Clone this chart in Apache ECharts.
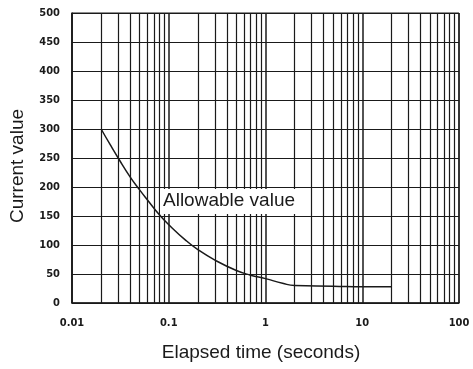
<!DOCTYPE html>
<html><head><meta charset="utf-8">
<script src="https://cdn.jsdelivr.net/npm/echarts@6/dist/echarts.min.js"></script>
<style>html,body{margin:0;padding:0;background:#fff}#c{width:473px;height:369px}</style>
</head><body><div id="c"></div>
<script>
var timeValues = [0.02, 0.025, 0.03, 0.04, 0.05, 0.06, 0.08, 0.1, 0.15, 0.2, 0.3, 0.5, 0.7, 1, 1.5, 2, 5, 10, 20];
var currentValues = [300, 272, 250, 217, 195, 178, 152, 135, 108, 92, 74, 56, 48, 42, 34, 30, 29, 28, 28];
var xTickLabels = {0.01: '0.01', 0.1: '0.1', 1: '1', 10: '10', 100: '100'};
var minorGrid = [];
[0.01, 0.1, 1, 10].forEach(function (d) { for (var k = 2; k <= 9; k++) minorGrid.push(+(d * k).toPrecision(3)); });

var chart = echarts.init(document.getElementById('c'));
var ink = '#1a1a1a';
chart.setOption({
  animation: false,
  grid: {left: 72, right: 14, top: 13, bottom: 66, show: true, borderColor: ink, borderWidth: 1},
  xAxis: {
    type: 'log', min: 0.01, max: 100, logBase: 10,
    axisLine: {show: true, lineStyle: {color: ink, width: 1.5}},
    axisTick: {show: false},
    splitLine: {show: true, lineStyle: {color: ink, width: 1.5}},
    axisLabel: {margin: 15, color: ink, fontFamily: 'DejaVu Sans Condensed', fontSize: 11, fontWeight: 'bold',
      formatter: function (v) { return xTickLabels[v] || ''; }}
  },
  yAxis: {
    type: 'value', min: 0, max: 500, interval: 50,
    axisLine: {show: true, lineStyle: {color: ink, width: 1.5}},
    axisTick: {show: false},
    splitLine: {show: true, lineStyle: {color: ink, width: 1.2}},
    axisLabel: {margin: 12, color: ink, fontFamily: 'DejaVu Sans Condensed', fontSize: 11, fontWeight: 'bold'}
  },
  series: [{
    type: 'line', smooth: true, symbol: 'none',
    data: timeValues.map(function (t, i) { return [t, currentValues[i]]; }),
    lineStyle: {color: ink, width: 1.5},
    markLine: {
      silent: true, symbol: 'none', label: {show: false},
      lineStyle: {color: ink, width: 1.2, type: 'solid'},
      data: minorGrid.map(function (v) { return {xAxis: v}; })
    }
  }],
  graphic: [
    {type: 'rect', left: 160, top: 189, shape: {width: 139, height: 25}, style: {fill: '#fff'}, z: 100},
    {type: 'text', x: 229, y: 201, z: 101,
      style: {text: 'Allowable value', font: '19px "Liberation Sans"', fill: ink, textAlign: 'center', textVerticalAlign: 'middle'}},
    {type: 'text', x: 18, y: 166, rotation: Math.PI / 2, z: 101,
      style: {text: 'Current value', font: '19px "Liberation Sans"', fill: ink, textAlign: 'center', textVerticalAlign: 'middle'}},
    {type: 'text', x: 261, y: 353, z: 101,
      style: {text: 'Elapsed time (seconds)', font: '19px "Liberation Sans"', fill: ink, textAlign: 'center', textVerticalAlign: 'middle'}}
  ]
});
</script></body></html>
